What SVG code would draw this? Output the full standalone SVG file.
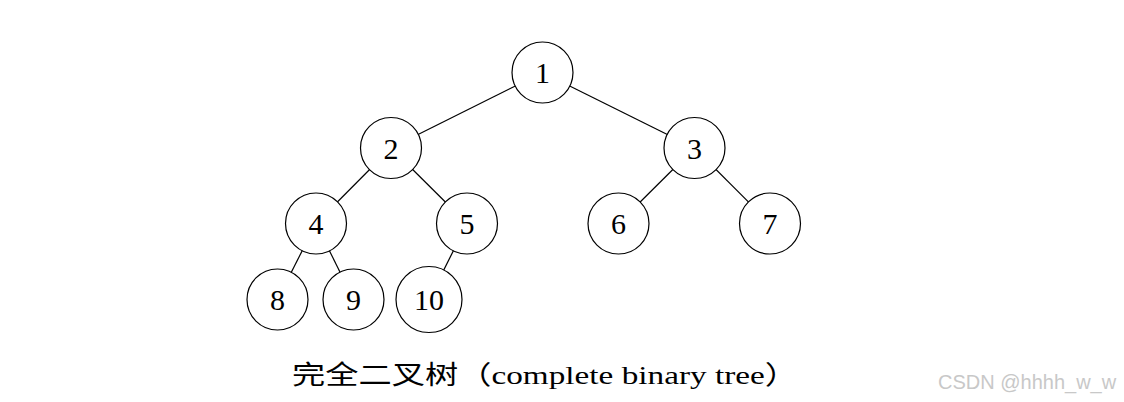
<svg xmlns="http://www.w3.org/2000/svg" width="1124" height="402" viewBox="0 0 1124 402">
<style>
.n circle{fill:#fff;stroke:#000;stroke-width:1.2}
.n text{font-family:"Liberation Serif","DejaVu Serif",serif;font-size:30px;text-anchor:middle;fill:#000}
#edges line{stroke:#000;stroke-width:1.2}
.cap{font-family:"Liberation Serif","Noto Sans CJK SC",serif;font-size:26px;fill:#000}
.wm{font-family:"Liberation Sans",sans-serif;font-size:20px;fill:#c8c8c8}
</style>
<rect width="1124" height="402" fill="#fff"/>
<g id="edges">
<line x1="542.5" y1="72.5" x2="391" y2="148"/>
<line x1="542.5" y1="72.5" x2="694.5" y2="148"/>
<line x1="391" y1="148" x2="316" y2="223.5"/>
<line x1="391" y1="148" x2="467" y2="223.5"/>
<line x1="694.5" y1="148" x2="618.5" y2="223.5"/>
<line x1="694.5" y1="148" x2="770" y2="223.5"/>
<line x1="316" y1="223.5" x2="277.5" y2="299.5"/>
<line x1="316" y1="223.5" x2="353.5" y2="299.5"/>
<line x1="467" y1="223.5" x2="429" y2="299.5"/>
</g>
<g id="n1" class="n"><circle cx="542.5" cy="72.5" r="30.5"/><text x="542.5" y="83">1</text></g>
<g id="n2" class="n"><circle cx="391" cy="148" r="30.5"/><text x="391" y="158.5">2</text></g>
<g id="n3" class="n"><circle cx="694.5" cy="148" r="30.5"/><text x="694.5" y="158.5">3</text></g>
<g id="n4" class="n"><circle cx="316" cy="223.5" r="30.5"/><text x="316" y="234">4</text></g>
<g id="n5" class="n"><circle cx="467" cy="223.5" r="30.5"/><text x="467" y="234">5</text></g>
<g id="n6" class="n"><circle cx="618.5" cy="223.5" r="30.5"/><text x="618.5" y="234">6</text></g>
<g id="n7" class="n"><circle cx="770" cy="223.5" r="30.5"/><text x="770" y="234">7</text></g>
<g id="n8" class="n"><circle cx="277.5" cy="299.5" r="30.5"/><text x="277.5" y="310">8</text></g>
<g id="n9" class="n"><circle cx="353.5" cy="299.5" r="30.5"/><text x="353.5" y="310">9</text></g>
<g id="n10" class="n"><circle cx="429" cy="299.5" r="33"/><text x="429" y="310">10</text></g>
<text class="cap" x="292" y="384" textLength="506" lengthAdjust="spacingAndGlyphs">完全二叉树（complete binary tree）</text>
<text class="wm" x="938" y="389">CSDN @hhhh_w_w</text>
</svg>
